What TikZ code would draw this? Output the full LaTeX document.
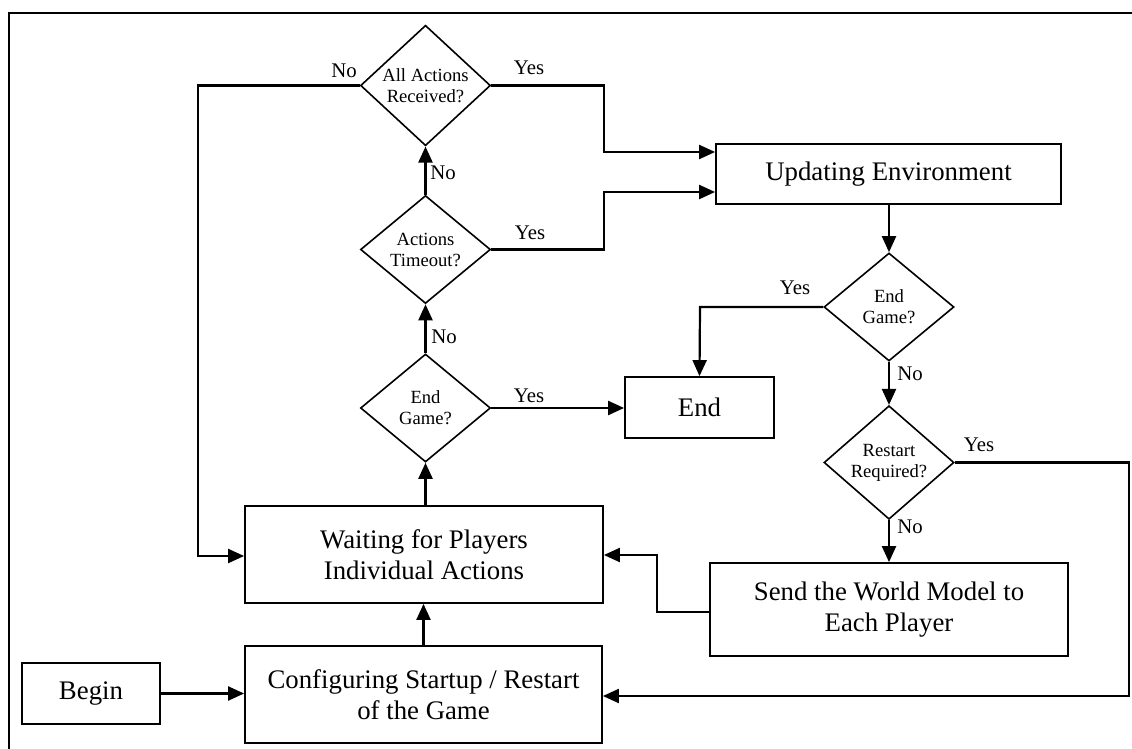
\documentclass[tikz,border=0pt]{standalone}
\usepackage{fontspec}
\setmainfont{Liberation Serif}
\usetikzlibrary{shapes.geometric,arrows.meta}

\tikzset{
  procbox/.style={draw, line width=1.8pt, inner sep=0pt, align=center,
    font=\fontsize{26.8}{31}\selectfont},
  decision/.style={draw, diamond, line width=1.6pt, inner sep=0pt,
    minimum width=130pt, minimum height=108pt, align=center,
    font=\fontsize{18.6}{21}\selectfont},
  flow/.style={line width=2.2pt, -{Triangle[length=16pt,width=14pt]}},
  lbl/.style={inner sep=0pt, font=\fontsize{20.8}{24}\selectfont},
}

\begin{document}
\begin{tikzpicture}[x=1pt,y=-1pt]
\useasboundingbox (0,0) rectangle (1132,749);
\fill[white] (0,0) rectangle (1132,749);

% surrounding frame
\draw[line width=1.8pt] (9,749) -- (9,13) -- (1132,13);

% process boxes
\node[procbox, minimum width=138pt, minimum height=61pt] (begin) at (91,693.5) {Begin};
\node[procbox, minimum width=357pt, minimum height=97pt] (conf) at (423.5,694.5) {Configuring Startup / Restart\\of the Game};
\node[procbox, minimum width=358pt, minimum height=97pt] (wait) at (424,554.5) {Waiting for Players\\Individual Actions};
\node[procbox, minimum width=149pt, minimum height=61pt] (end) at (699.5,407.5) {End};
\node[procbox, minimum width=345pt, minimum height=60pt] (upd) at (888.5,174) {Updating Environment};
\node[procbox, minimum width=358pt, minimum height=93pt] (send) at (889,609.5) {Send the World Model to\\Each Player};

% decisions
\node[decision] (allrec) at (425.5,85.5) {All Actions\\Received?};
\node[decision] (timeout) at (425.5,249.5) {Actions\\Timeout?};
\node[decision] (endA) at (425.5,408) {End\\Game?};
\node[decision] (endB) at (889,307) {End\\Game?};
\node[decision] (restart) at (889,462.5) {Restart\\Required?};

% connectors
\draw[flow] (begin.east) -- (conf.west |- begin.east);
\draw[flow] (conf.north) -- (wait.south -| conf.north);
\draw[flow] (wait.north -| endA.south) -- (endA.south);
\draw[flow] (endA.north) -- (timeout.south);
\draw[flow] (timeout.north) -- (allrec.south);
\draw[flow] (allrec.west) -- (198,85.5) -- (198,556) -- (wait.west |- 0,556);
\draw[flow] (allrec.east) -- (604,85.5) -- (604,152) -- (upd.west |- 0,152);
\draw[flow] (timeout.east) -- (604,249.5) -- (604,192) -- (upd.west |- 0,192);
\draw[flow] (endA.east) -- (end.west |- endA.east);
\draw[flow] (upd.south -| endB.north) -- (endB.north);
\draw[flow] (endB.west) -- (700,307) -- (end.north);
\draw[flow] (endB.south) -- (restart.north);
\draw[flow] (restart.south) -- (send.north -| restart.south);
\draw[flow] (restart.east) -- (1129,462.5) -- (1129,696) -- (conf.east |- 0,696);
\draw[flow] (send.west |- 0,612) -- (657,612) -- (657,555) -- (wait.east |- 0,555);

% branch labels
\node[lbl] (noAll) at (344,71) {No};
\node[lbl] (yesAll) at (529,68) {Yes};
\node[lbl] (noTime) at (443,173) {No};
\node[lbl] (yesTime) at (530,233) {Yes};
\node[lbl] (noEndA) at (444,337) {No};
\node[lbl] (yesEndA) at (529,396) {Yes};
\node[lbl] (yesEndB) at (795,288) {Yes};
\node[lbl] (noEndB) at (910,374) {No};
\node[lbl] (yesRestart) at (979,445) {Yes};
\node[lbl] (noRestart) at (910,527) {No};
\end{tikzpicture}
\end{document}
